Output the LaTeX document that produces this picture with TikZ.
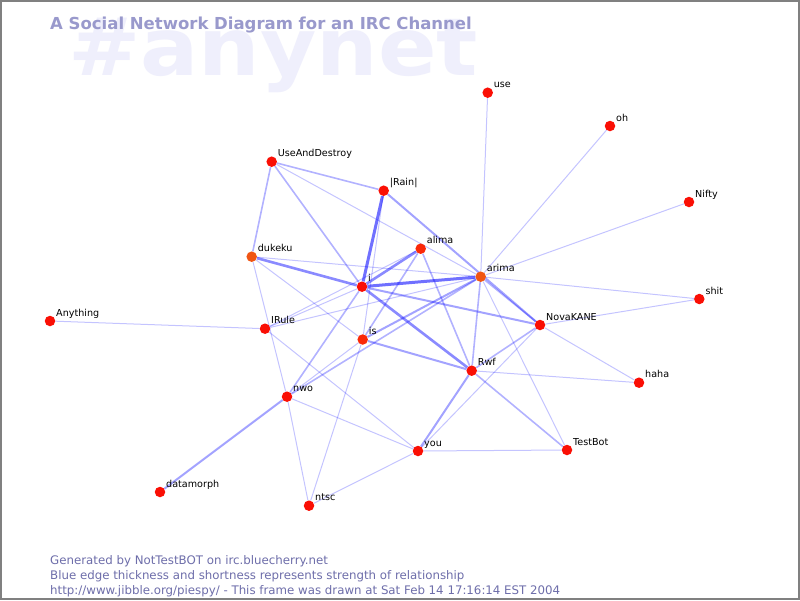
\documentclass[tikz,border=0pt]{standalone}
\usepackage{fontspec}
\setmainfont{DejaVu Sans}
\usetikzlibrary{backgrounds}
\definecolor{dotred}{RGB}{250,15,5}
\definecolor{dotorange}{RGB}{240,85,20}
\definecolor{dotmid}{RGB}{250,40,8}
\definecolor{titlecol}{RGB}{153,153,204}
\definecolor{bgtext}{RGB}{239,239,252}
\definecolor{footcol}{RGB}{110,110,170}
\definecolor{edgeblue}{RGB}{0,0,255}
\definecolor{framecol}{RGB}{128,128,128}
\begin{document}
\begin{tikzpicture}[x=1pt,y=-1pt,
  dot/.style={circle,fill=dotred,draw=none,minimum size=10.5pt,inner sep=0pt},
  lbl/.style={anchor=base west,inner sep=0pt,font=\fontsize{9.6}{11}\selectfont,text=black},
  foot/.style={anchor=base west,inner sep=0pt,font=\fontsize{11.8}{14}\selectfont,text=footcol},
  wA/.style={draw=edgeblue,line width=1pt,draw opacity=0.23},
  wB/.style={draw=edgeblue,line width=1.6pt,draw opacity=0.30},
  wC/.style={draw=edgeblue,line width=2pt,draw opacity=0.36},
  wD/.style={draw=edgeblue,line width=2.6pt,draw opacity=0.46},
  wE/.style={draw=edgeblue,line width=3pt,draw opacity=0.56}]
\useasboundingbox (0,0) rectangle (800,600);

% nodes
\node[dot] (use) at (487.7,92.7) {};
\node[dot] (oh) at (610,126) {};
\node[dot] (Nifty) at (689,202) {};
\node[dot] (shit) at (699.3,299) {};
\node[dot] (haha) at (639,382.7) {};
\node[dot] (NovaKANE) at (540,325) {};
\node[dot] (Rwf) at (471.7,370.7) {};
\node[dot,fill=dotorange] (arima) at (480.7,276.7) {};
\node[dot] (Anything) at (50,321) {};
\node[dot] (datamorph) at (160,492) {};
\node[dot] (TestBot) at (567,450) {};
\node[dot] (you) at (418,451) {};
\node[dot] (ntsc) at (309,505.7) {};
\node[dot] (nwo) at (287,396.7) {};
\node[dot] (IRule) at (265,328.7) {};
\node[dot,fill=dotmid] (is) at (362.7,339.5) {};
\node[dot] (i) at (362,286.7) {};
\node[dot,fill=dotmid] (alima) at (420.7,248.7) {};
\node[dot] (Rain) at (383.7,190.7) {};
\node[dot] (UAD) at (271.7,161.7) {};
\node[dot,fill=dotorange] (dukeku) at (251.7,256.7) {};

% labels
\node[lbl] (useL) at (493.7,87.9) {use};
\node[lbl] (ohL) at (616,121.2) {oh};
\node[lbl] (NiftyL) at (695,197.2) {Nifty};
\node[lbl] (shitL) at (705.3,294.2) {shit};
\node[lbl] (hahaL) at (645,377.9) {haha};
\node[lbl] (NovaKANEL) at (546,320.2) {NovaKANE};
\node[lbl] (RwfL) at (477.7,365.9) {Rwf};
\node[lbl] (arimaL) at (486.7,271.9) {arima};
\node[lbl] (AnythingL) at (56,316.2) {Anything};
\node[lbl] (datamorphL) at (166,487.2) {datamorph};
\node[lbl] (TestBotL) at (573,445.2) {TestBot};
\node[lbl] (youL) at (424,446.2) {you};
\node[lbl] (ntscL) at (315,500.9) {ntsc};
\node[lbl] (nwoL) at (293,391.9) {nwo};
\node[lbl] (IRuleL) at (271,323.9) {IRule};
\node[lbl] (isL) at (368.7,334.7) {is};
\node[lbl] (iL) at (368,281.9) {i};
\node[lbl] (alimaL) at (426.7,243.9) {alima};
\node[lbl] (RainL) at (389.7,185.9) {|Rain|};
\node[lbl] (UADL) at (277.7,156.9) {UseAndDestroy};
\node[lbl] (dukekuL) at (257.7,251.9) {dukeku};

% title and footer
\node[anchor=base west,inner sep=0pt,text=titlecol,font=\fontsize{16.5}{20}\selectfont\bfseries] (title) at (50,29.3) {A Social Network Diagram for an IRC Channel};
\node[foot] (f1) at (50,564.5) {Generated by NotTestBOT on irc.bluecherry.net};
\node[foot] (f2) at (50,579.5) {Blue edge thickness and shortness represents strength of relationship};
\node[foot] (f3) at (50,594) {http://www.jibble.org/piespy/ - This frame was drawn at Sat Feb 14 17:16:14 EST 2004};

\begin{scope}[on background layer]
\fill[white] (0,0) rectangle (800,600);
\node[anchor=base west,inner sep=0pt,text=bgtext,font=\fontsize{80}{90}\selectfont\bfseries] (chan) at (68,75.7) {\scalebox{1.08}[1]{\#anynet}};
% edges
\draw[wA] (Anything) -- (IRule);
\draw[wC] (datamorph) -- (nwo);
\draw[wB] (UAD) -- (dukeku);
\draw[wB] (UAD) -- (i);
\draw[wB] (UAD) -- (Rain);
\draw[wA] (UAD) -- (arima);
\draw[wE] (Rain) -- (i);
\draw[wC] (Rain) -- (NovaKANE);
\draw[wA] (Rain) -- (is);
\draw[wD] (dukeku) -- (i);
\draw[wA] (dukeku) -- (arima);
\draw[wA] (dukeku) -- (nwo);
\draw[wA] (dukeku) -- (is);
\draw[wA] (IRule) -- (i);
\draw[wA] (IRule) -- (alima);
\draw[wA] (IRule) -- (arima);
\draw[wA] (IRule) -- (you);
\draw[wD] (i) -- (alima);
\draw[wE] (i) -- (arima);
\draw[wD] (i) -- (Rwf);
\draw[wC] (i) -- (NovaKANE);
\draw[wB] (i) -- (nwo);
\draw[wB] (alima) -- (is);
\draw[wB] (alima) -- (Rwf);
\draw[wA] (nwo) -- (is);
\draw[wB] (nwo) -- (arima);
\draw[wA] (nwo) -- (you);
\draw[wA] (nwo) -- (ntsc);
\draw[wC] (is) -- (Rwf);
\draw[wC] (is) -- (arima);
\draw[wA] (is) -- (ntsc);
\draw[wB] (arima) -- (Rwf);
\draw[wB] (arima) -- (NovaKANE);
\draw[wA] (arima) -- (TestBot);
\draw[wA] (arima) -- (use);
\draw[wA] (arima) -- (oh);
\draw[wA] (arima) -- (Nifty);
\draw[wA] (arima) -- (shit);
\draw[wA] (NovaKANE) -- (shit);
\draw[wA] (NovaKANE) -- (haha);
\draw[wB] (NovaKANE) -- (Rwf);
\draw[wA] (NovaKANE) -- (you);
\draw[wA] (Rwf) -- (haha);
\draw[wC] (Rwf) -- (you);
\draw[wB] (Rwf) -- (TestBot);
\draw[wA] (you) -- (TestBot);
\draw[wA] (you) -- (ntsc);
\end{scope}

\draw[framecol,line width=1.6pt] (0.8,0.8) rectangle (799.2,599.2);
\end{tikzpicture}
\end{document}
